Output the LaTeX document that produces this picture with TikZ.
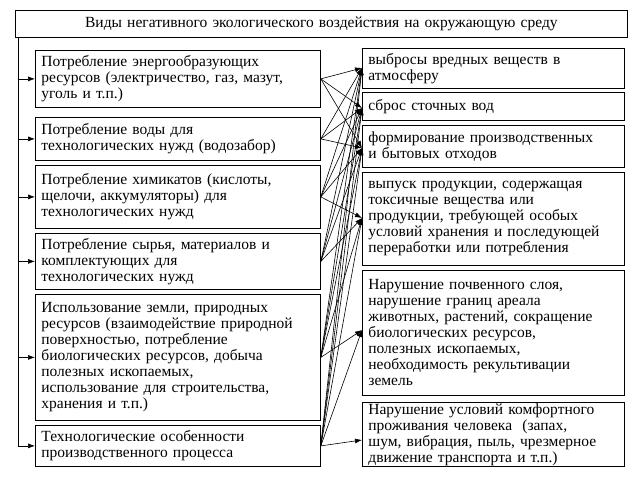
\documentclass[tikz,border=0pt]{standalone}
\usepackage{fontspec}
\setmainfont{Liberation Serif}
\usetikzlibrary{arrows.meta}
\begin{document}
\begin{tikzpicture}[x=1pt,y=-1pt,
 bx/.style={draw,line width=0.8pt,anchor=north west,inner xsep=6pt,inner ysep=1pt,align=left,font=\fontsize{15.5}{16}\selectfont},
 ar/.style={-{Latex[length=7pt,width=5pt]},line width=0.6pt}]
\useasboundingbox (0,0) rectangle (635,490);
\def\B#1#2#3#4#5#6{\node[bx,minimum width=#4-#2,minimum height=#5-#3,text width=#4-#2-10pt] (#1) at (#2,#3) {#6};}
\node[bx,minimum width=607,minimum height=27,text width=600,align=center] (t) at (15,10) {Виды негативного экологического воздействия на окружающую среду};
\B{l1}{35}{50}{318}{107}{Потребление энергообразующих\\ресурсов (электричество, газ, мазут,\\уголь и т.п.)}
\B{l2}{35}{117}{318}{160}{Потребление воды для\\технологических нужд (водозабор)}
\B{l3}{35}{165}{318}{228}{Потребление химикатов (кислоты,\\щелочи, аккумуляторы) для\\технологических нужд}
\B{l4}{35}{233}{318}{289}{Потребление сырья, материалов и\\комплектующих для\\технологических нужд}
\B{l5}{35}{294}{318}{420}{Использование земли, природных\\ресурсов (взаимодействие природной\\поверхностью, потребление\\биологических ресурсов, добыча\\полезных ископаемых,\\использование для строительства,\\хранения и т.п.)}
\B{l6}{35}{425}{318}{466}{Технологические особенности\\производственного процесса}
\B{r1}{362}{48}{622}{88}{выбросы вредных веществ в\\атмосферу}
\B{r2}{362}{92}{622}{120}{сброс сточных вод}
\B{r3}{362}{125}{622}{167}{формирование производственных\\и бытовых отходов}
\B{r4}{362}{172}{622}{265}{выпуск продукции, содержащая\\токсичные вещества или\\продукции, требующей особых\\условий хранения и последующей\\переработки или потребления}
\B{r5}{362}{270}{622}{395}{Нарушение почвенного слоя,\\нарушение границ ареала\\животных, растений, сокращение\\биологических ресурсов,\\полезных ископаемых,\\необходимость рекультивации\\земель}
\B{r6}{362}{402}{622}{466}{Нарушение условий комфортного\\проживания человека\ \ (запах,\\шум, вибрация, пыль, чрезмерное\\движение транспорта и т.п.)}
\coordinate (top) at (18,37);
\draw[line width=0.6pt] (top) -- (18,447);
\foreach \n in {l1,l2,l3,l4,l5,l6}
  \draw[ar] (top |- \n.west) -- (\n.west);
\coordinate (T1) at (362,68);
\coordinate (T2) at (362,108);
\coordinate (T3) at (362,148);
\coordinate (T4) at (362,218);
\coordinate (T5) at (362,330);
\coordinate (T6) at (362,440);
\foreach \s/\ts in {l1/{1,2,3},l2/{1,2,3},l3/{1,2,3,4},l4/{1,2,3,4},l5/{1,2,3,4,5},l6/{1,2,3,4,5,6}}
  \foreach \t in \ts
    \draw[ar] (\s.east) -- (T\t);
\end{tikzpicture}
\end{document}
